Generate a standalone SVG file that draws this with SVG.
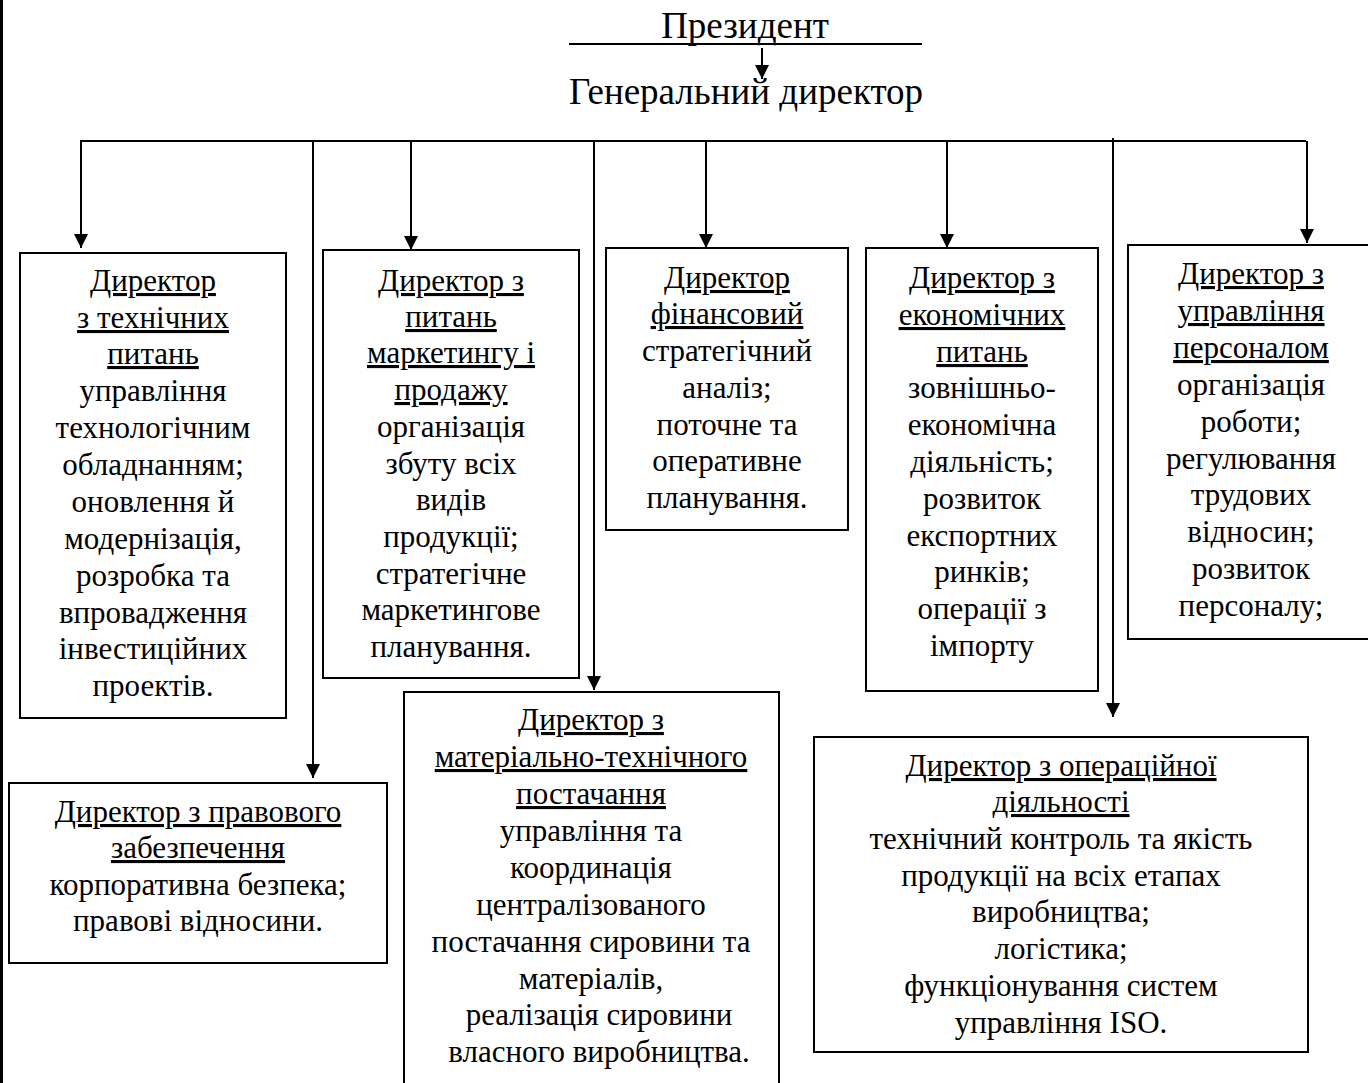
<svg xmlns="http://www.w3.org/2000/svg" width="1368" height="1083" viewBox="0 0 1368 1083">
<style>
text{font-family:"Liberation Serif","Times New Roman",serif;fill:#000;}
.h{font-size:37px;text-anchor:middle;}
.t{font-size:31px;text-anchor:middle;}
.u{text-decoration:underline;}
.box{fill:#fff;stroke:#000;stroke-width:2;}
.ln{fill:none;stroke:#000;stroke-width:2;}
</style>
<defs>
<marker id="arr" markerUnits="userSpaceOnUse" markerWidth="14" markerHeight="14" refX="14" refY="7" orient="auto" viewBox="0 0 14 14">
<path d="M0,0 L14,7 L0,14 z" fill="#000"/>
</marker>
</defs>
<rect width="1368" height="1083" fill="#fff"/>
<line x1="1.5" y1="0" x2="1.5" y2="1083" stroke="#000" stroke-width="3"/>

<g id="president">
<text class="h" x="745" y="38">Президент</text>
<line x1="569" y1="44" x2="922" y2="44" stroke="#000" stroke-width="2"/>
</g>
<g id="general">
<text class="h" x="746" y="104">Генеральний директор</text>
</g>

<g id="connectors">
<line class="ln" x1="762" y1="48" x2="762" y2="79" marker-end="url(#arr)"/>
<line class="ln" x1="80" y1="141" x2="1306" y2="141"/>
<line class="ln" x1="81" y1="141" x2="81" y2="248" marker-end="url(#arr)"/>
<line class="ln" x1="313" y1="141" x2="313" y2="778" marker-end="url(#arr)"/>
<line class="ln" x1="411" y1="141" x2="411" y2="250" marker-end="url(#arr)"/>
<line class="ln" x1="594" y1="141" x2="594" y2="690" marker-end="url(#arr)"/>
<line class="ln" x1="706" y1="141" x2="706" y2="248" marker-end="url(#arr)"/>
<line class="ln" x1="947" y1="141" x2="947" y2="248" marker-end="url(#arr)"/>
<line class="ln" x1="1113" y1="138" x2="1113" y2="717" marker-end="url(#arr)"/>
<line class="ln" x1="1307" y1="141" x2="1307" y2="243" marker-end="url(#arr)"/>
</g>

<g id="tech">
<rect class="box" x="20" y="253" width="266" height="465"/>
<text class="t u" x="153" y="291">Директор</text>
<text class="t u" x="153" y="328">з технічних</text>
<text class="t u" x="153" y="364">питань</text>
<text class="t" x="153" y="401">управління</text>
<text class="t" x="153" y="438">технологічним</text>
<text class="t" x="153" y="475">обладнанням;</text>
<text class="t" x="153" y="512">оновлення й</text>
<text class="t" x="153" y="549">модернізація,</text>
<text class="t" x="153" y="586">розробка та</text>
<text class="t" x="153" y="623">впровадження</text>
<text class="t" x="153" y="659">інвестиційних</text>
<text class="t" x="153" y="696">проектів.</text>
</g>

<g id="marketing">
<rect class="box" x="323" y="250" width="256" height="428"/>
<text class="t u" x="451" y="291">Директор з</text>
<text class="t u" x="451" y="327">питань</text>
<text class="t u" x="451" y="363">маркетингу і</text>
<text class="t u" x="451" y="400">продажу</text>
<text class="t" x="451" y="437">організація</text>
<text class="t" x="451" y="474">збуту всіх</text>
<text class="t" x="451" y="510">видів</text>
<text class="t" x="451" y="547">продукції;</text>
<text class="t" x="451" y="584">стратегічне</text>
<text class="t" x="451" y="620">маркетингове</text>
<text class="t" x="451" y="657">планування.</text>
</g>

<g id="finance">
<rect class="box" x="606" y="248" width="242" height="282"/>
<text class="t u" x="727" y="288">Директор</text>
<text class="t u" x="727" y="324">фінансовий</text>
<text class="t" x="727" y="361">стратегічний</text>
<text class="t" x="727" y="398">аналіз;</text>
<text class="t" x="727" y="435">поточне та</text>
<text class="t" x="727" y="471">оперативне</text>
<text class="t" x="727" y="508">планування.</text>
</g>

<g id="economic">
<rect class="box" x="866" y="248" width="232" height="443"/>
<text class="t u" x="982" y="288">Директор з</text>
<text class="t u" x="982" y="325">економічних</text>
<text class="t u" x="982" y="362">питань</text>
<text class="t" x="982" y="398">зовнішньо-</text>
<text class="t" x="982" y="435">економічна</text>
<text class="t" x="982" y="472">діяльність;</text>
<text class="t" x="982" y="509">розвиток</text>
<text class="t" x="982" y="546">експортних</text>
<text class="t" x="982" y="582">ринків;</text>
<text class="t" x="982" y="619">операції з</text>
<text class="t" x="982" y="656">імпорту</text>
</g>

<g id="personnel">
<rect class="box" x="1128" y="245" width="250" height="394"/>
<text class="t u" x="1251" y="284">Директор з</text>
<text class="t u" x="1251" y="321">управління</text>
<text class="t u" x="1251" y="358">персоналом</text>
<text class="t" x="1251" y="395">організація</text>
<text class="t" x="1251" y="432">роботи;</text>
<text class="t" x="1251" y="469">регулювання</text>
<text class="t" x="1251" y="505">трудових</text>
<text class="t" x="1251" y="542">відносин;</text>
<text class="t" x="1251" y="579">розвиток</text>
<text class="t" x="1251" y="616">персоналу;</text>
</g>

<g id="legal">
<rect class="box" x="9" y="783" width="378" height="180"/>
<text class="t u" x="198" y="822">Директор з правового</text>
<text class="t u" x="198" y="858">забезпечення</text>
<text class="t" x="198" y="895">корпоративна безпека;</text>
<text class="t" x="198" y="931">правові відносини.</text>
</g>

<g id="supply">
<rect class="box" x="404" y="692" width="375" height="420"/>
<text class="t u" x="591" y="730">Директор з</text>
<text class="t u" x="591" y="767">матеріально-технічного</text>
<text class="t u" x="591" y="804">постачання</text>
<text class="t" x="591" y="841">управління та</text>
<text class="t" x="591" y="878">координація</text>
<text class="t" x="591" y="915">централізованого</text>
<text class="t" x="591" y="952">постачання сировини та</text>
<text class="t" x="591" y="989">матеріалів,</text>
<text class="t" x="599" y="1025">реалізація сировини</text>
<text class="t" x="599" y="1062">власного виробництва.</text>
</g>

<g id="operations">
<rect class="box" x="814" y="737" width="494" height="315"/>
<text class="t u" x="1061" y="776">Директор з операційної</text>
<text class="t u" x="1061" y="812">діяльності</text>
<text class="t" x="1061" y="849">технічний контроль та якість</text>
<text class="t" x="1061" y="886">продукції на всіх етапах</text>
<text class="t" x="1061" y="922">виробництва;</text>
<text class="t" x="1061" y="959">логістика;</text>
<text class="t" x="1061" y="996">функціонування систем</text>
<text class="t" x="1061" y="1033">управління ISO.</text>
</g>
</svg>
